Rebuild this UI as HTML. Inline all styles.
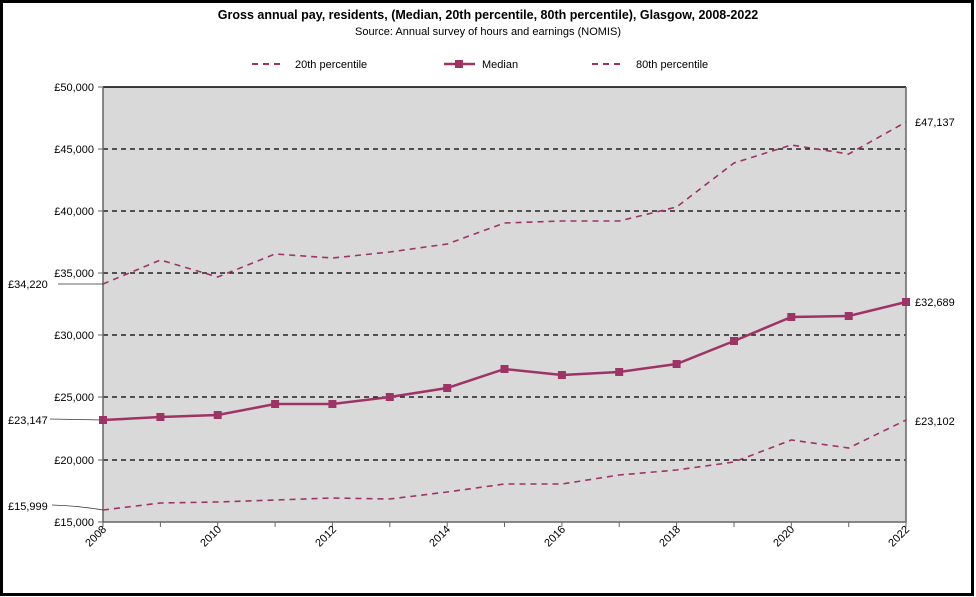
<!DOCTYPE html>
<html><head><meta charset="utf-8"><style>body{margin:0;background:#fff}svg{display:block;font-family:"Liberation Sans",Arial,sans-serif}</style></head><body>
<svg width="976" height="597" viewBox="0 0 976 597">
<rect x="1.5" y="1.5" width="971" height="593" fill="#fff" stroke="#000" stroke-width="3"/>
<text x="488" y="19" text-anchor="middle" font-size="12.5" font-weight="bold">Gross annual pay, residents, (Median, 20th percentile, 80th percentile), Glasgow, 2008-2022</text>
<text x="488" y="35" text-anchor="middle" font-size="11">Source: Annual survey of hours and earnings (NOMIS)</text>
<g font-size="11">
<line x1="252" y1="64" x2="284" y2="64" stroke="#9e3366" stroke-width="2" stroke-dasharray="6,5"/><text x="295" y="68">20th percentile</text>
<line x1="444" y1="64" x2="475" y2="64" stroke="#9e3366" stroke-width="2.5"/><rect x="455" y="60" width="8" height="8" fill="#9e3366"/><text x="482" y="68">Median</text>
<line x1="592" y1="64" x2="624" y2="64" stroke="#9e3366" stroke-width="2" stroke-dasharray="6,5"/><text x="636" y="68">80th percentile</text>
</g>
<rect x="103" y="87" width="803" height="435" fill="#d9d9d9"/>
<g stroke="#000" stroke-width="1.2" stroke-dasharray="5,4">
<line x1="103" x2="906" y1="149" y2="149"/><line x1="103" x2="906" y1="211" y2="211"/><line x1="103" x2="906" y1="273" y2="273"/><line x1="103" x2="906" y1="335" y2="335"/><line x1="103" x2="906" y1="397" y2="397"/><line x1="103" x2="906" y1="460" y2="460"/>
</g>
<line x1="103" x2="906" y1="87" y2="87" stroke="#000" stroke-width="1.5"/>
<line x1="103" x2="103" y1="87" y2="522" stroke="#666" stroke-width="1.5"/>
<line x1="906" x2="906" y1="87" y2="522" stroke="#666" stroke-width="1.5"/>
<line x1="103" x2="906" y1="522" y2="522" stroke="#666" stroke-width="1.5"/>
<g stroke="#666">
<line x1="98" x2="103" y1="87" y2="87"/><line x1="98" x2="103" y1="149" y2="149"/><line x1="98" x2="103" y1="211" y2="211"/><line x1="98" x2="103" y1="273" y2="273"/><line x1="98" x2="103" y1="335" y2="335"/><line x1="98" x2="103" y1="397" y2="397"/><line x1="98" x2="103" y1="460" y2="460"/><line x1="98" x2="103" y1="522" y2="522"/>
<line x1="103" x2="103" y1="522" y2="527"/><line x1="217.7" x2="217.7" y1="522" y2="527"/><line x1="332.4" x2="332.4" y1="522" y2="527"/><line x1="447.2" x2="447.2" y1="522" y2="527"/><line x1="561.9" x2="561.9" y1="522" y2="527"/><line x1="676.6" x2="676.6" y1="522" y2="527"/><line x1="791.3" x2="791.3" y1="522" y2="527"/><line x1="906" x2="906" y1="522" y2="527"/>
<line x1="160.4" x2="160.4" y1="522" y2="527"/><line x1="275.1" x2="275.1" y1="522" y2="527"/><line x1="389.8" x2="389.8" y1="522" y2="527"/><line x1="504.5" x2="504.5" y1="522" y2="527"/><line x1="619.2" x2="619.2" y1="522" y2="527"/><line x1="734" x2="734" y1="522" y2="527"/><line x1="848.7" x2="848.7" y1="522" y2="527"/>
</g>
<g font-size="11" text-anchor="end">
<text x="94" y="91">£50,000</text><text x="94" y="153">£45,000</text><text x="94" y="215">£40,000</text><text x="94" y="277">£35,000</text><text x="94" y="339">£30,000</text><text x="94" y="401">£25,000</text><text x="94" y="464">£20,000</text><text x="94" y="526">£15,000</text>
<text transform="translate(107,530) rotate(-45)">2008</text><text transform="translate(222,530) rotate(-45)">2010</text><text transform="translate(337,530) rotate(-45)">2012</text><text transform="translate(451,530) rotate(-45)">2014</text><text transform="translate(566,530) rotate(-45)">2016</text><text transform="translate(681,530) rotate(-45)">2018</text><text transform="translate(795,530) rotate(-45)">2020</text><text transform="translate(910,530) rotate(-45)">2022</text>
</g>
<g font-size="11">
<text x="8" y="288">£34,220</text><text x="8" y="424">£23,147</text><text x="8" y="510">£15,999</text>
<text x="915" y="126">£47,137</text><text x="915" y="306">£32,689</text><text x="915" y="425">£23,102</text>
</g>
<g stroke="#333" fill="none" stroke-width="0.8">
<path d="M58 284 L103 284"/><path d="M50 419 L103 420"/><path d="M52 505 Q80 506 103 510"/>
</g>
<g fill="none" stroke="#9e3366" stroke-width="1.6" stroke-dasharray="6,5">
<polyline points="103,284 160.4,260 217.7,277 275.1,254 332.4,258 389.8,252 447.2,244 504.5,223 561.9,221 619.2,221 676.6,207 734,163 791.3,145 848.7,154 906,122"/>
<polyline points="103,510 160.4,503 217.7,502 275.1,500 332.4,498 389.8,499 447.2,492 504.5,484 561.9,484 619.2,475 676.6,470 734,462 791.3,440 848.7,448 906,420"/>
</g>
<polyline fill="none" stroke="#9e3366" stroke-width="2.5" points="103,420 160.4,417 217.7,415 275.1,404 332.4,404 389.8,397 447.2,388 504.5,369 561.9,375 619.2,372 676.6,364 734,341 791.3,317 848.7,316 906,302"/>
<g fill="#9e3366">
<rect x="99" y="416" width="8" height="8"/><rect x="156.4" y="413" width="8" height="8"/><rect x="213.7" y="411" width="8" height="8"/><rect x="271.1" y="400" width="8" height="8"/><rect x="328.4" y="400" width="8" height="8"/><rect x="385.8" y="393" width="8" height="8"/><rect x="443.2" y="384" width="8" height="8"/><rect x="500.5" y="365" width="8" height="8"/><rect x="557.9" y="371" width="8" height="8"/><rect x="615.2" y="368" width="8" height="8"/><rect x="672.6" y="360" width="8" height="8"/><rect x="730" y="337" width="8" height="8"/><rect x="787.3" y="313" width="8" height="8"/><rect x="844.7" y="312" width="8" height="8"/><rect x="902" y="298" width="8" height="8"/>
</g>
</svg>
</body></html>
